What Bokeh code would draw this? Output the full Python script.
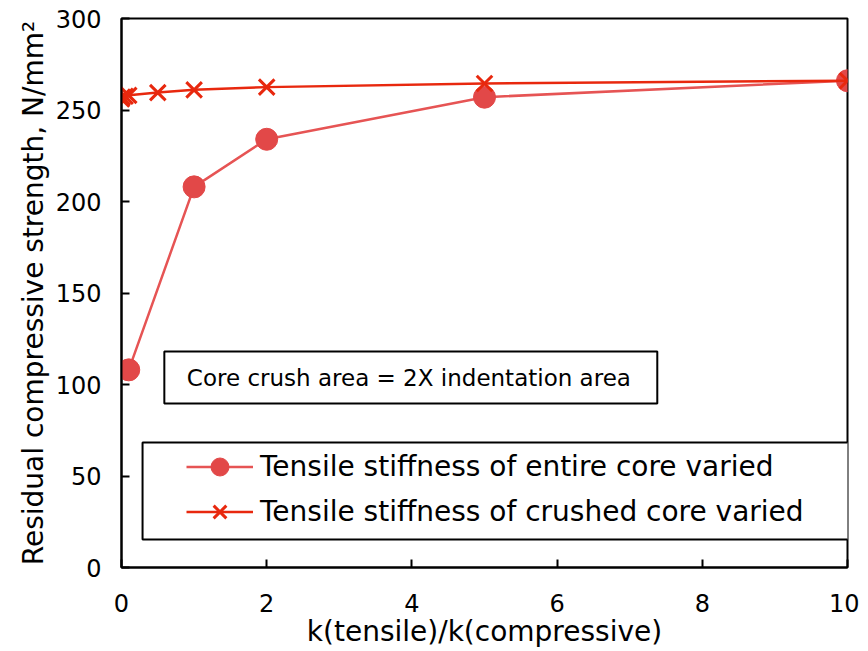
from bokeh.plotting import figure
from bokeh.models import Range1d, Legend, LegendItem, BoxAnnotation, Label, FixedTicker
from bokeh.embed import file_html
from bokeh.resources import INLINE

# Data
x_entire = [0.1, 1, 2, 5, 10]
y_entire = [108, 208, 234, 257, 266]

x_crushed = [0, 0.01, 0.05, 0.1, 0.5, 1, 2, 5, 10]
y_crushed = [256, 257, 257.5, 258, 259.5, 261, 262.5, 264.5, 266]

x_ticks = [0, 2, 4, 6, 8, 10]
y_ticks = [0, 50, 100, 150, 200, 250, 300]

label_entire = "Tensile stiffness of entire core varied"
label_crushed = "Tensile stiffness of crushed core varied"
note_text = "Core crush area = 2X indentation area"

FONT = "DejaVu Sans"
C_ENTIRE = "#E24848"
C_ENTIRE_LINE = "#E65454"
C_CRUSHED = "#E8280E"

p = figure(frame_width=726, frame_height=549, output_backend="svg", toolbar_location=None,
           x_range=Range1d(0, 10), y_range=Range1d(0, 300),
           min_border_left=121, min_border_top=18, min_border_right=12, min_border_bottom=10)
p.background_fill_color = "white"
p.border_fill_color = "white"
p.outline_line_color = "black"
p.outline_line_width = 2
p.xgrid.visible = False
p.ygrid.visible = False

for ax in (p.xaxis, p.yaxis):
    ax.axis_line_width = 2
    ax.axis_line_color = "black"
    ax.major_tick_line_width = 2
    ax.major_tick_line_color = "black"
    ax.major_tick_in = 8
    ax.major_tick_out = 0
    ax.minor_tick_line_color = None
    ax.major_label_text_font = FONT
    ax.major_label_text_font_size = "24px"
    ax.major_label_text_color = "black"
    ax.axis_label_text_font = FONT
    ax.axis_label_text_font_size = "28px"
    ax.axis_label_text_font_style = "normal"
    ax.axis_label_text_color = "black"

p.xaxis.ticker = FixedTicker(ticks=x_ticks)
p.yaxis.ticker = FixedTicker(ticks=y_ticks)
p.xaxis.major_label_standoff = 26
p.yaxis.major_label_standoff = 20
p.xaxis.axis_label = "k(tensile)/k(compressive)"
p.yaxis.axis_label = "Residual compressive strength, N/mm\u00b2"
p.xaxis.axis_label_standoff = 0
p.yaxis.axis_label_standoff = 3

# Series
l1 = p.line(x_entire, y_entire, line_color=C_ENTIRE_LINE, line_width=2.5)
s1 = p.scatter(x_entire, y_entire, marker="circle", size=22, fill_color=C_ENTIRE,
               line_color=C_ENTIRE)
l2 = p.line(x_crushed, y_crushed, line_color=C_CRUSHED, line_width=2.5)
s2 = p.scatter(x_crushed, y_crushed, marker="x", size=22, line_color=C_CRUSHED, line_width=3)

# Note box
note_box = BoxAnnotation(left=0.59, right=7.38, bottom=89.6, top=118.0,
                         fill_color="white", fill_alpha=1.0,
                         line_color="black", line_alpha=1.0, line_width=2)
p.add_layout(note_box)
note = Label(x=0.9, y=103.8, text=note_text, text_font=FONT, text_font_size="23px",
             text_baseline="middle", text_color="black")
p.add_layout(note)

# Legend box
leg_box = BoxAnnotation(left=0.29, right=10.055, bottom=15.3, top=68.3,
                        fill_color="white", fill_alpha=1.0,
                        line_color="black", line_alpha=1.0, line_width=2)
p.add_layout(leg_box)

legend = Legend(items=[LegendItem(label=label_entire, renderers=[l1, s1]),
                       LegendItem(label=label_crushed, renderers=[l2, s2])],
                location=(65, 33), padding=0, margin=0, spacing=0,
                glyph_width=67, glyph_height=45, label_height=45, label_standoff=7,
                label_text_font=FONT, label_text_font_size="28px",
                label_text_color="black",
                border_line_color=None, background_fill_alpha=0)
p.add_layout(legend)

open("out.html", "w").write(file_html(p, INLINE))
